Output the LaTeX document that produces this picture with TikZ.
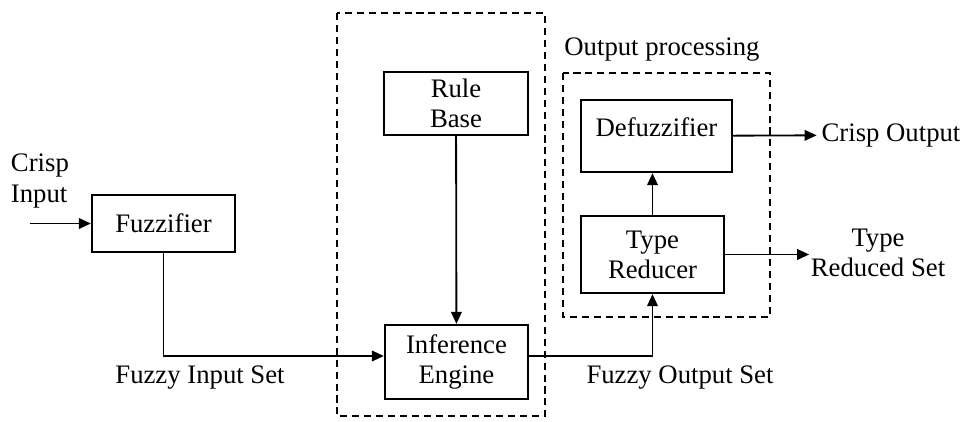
\documentclass[tikz,border=0pt]{standalone}
\usepackage{fontspec}
\setmainfont{Liberation Serif}
\usepackage{tikz}
\usetikzlibrary{shapes,arrows,arrows.meta}

\tikzset{
  block/.style={rectangle,draw,line width=1.6pt,align=center},
  frame/.style={draw,line width=1.4pt,dash pattern=on 5pt off 3.5pt},
  arr/.style={line width=1.3pt,-{Triangle[length=8.5pt,width=7.5pt]}}
}

\begin{document}
\begin{tikzpicture}[x=0.025cm,y=-0.025cm,font=\fontsize{19}{21.5}\selectfont]
\useasboundingbox (0,0) rectangle (970,421);

\draw [frame] (337,13) rectangle (545,416);
\draw [frame] (563,73) rectangle (770,317);

\node [anchor=west,align=left] (v1) at (6,181) {Crisp\\Input};
\node [block,minimum width=3.575cm,minimum height=1.425cm] (v2) at (163.5,223.5) {Fuzzifier};
\node (v3) at (200,378) {Fuzzy Input Set};
\node [block,minimum width=3.6cm,minimum height=1.575cm] (v4) at (456,103.5) {Rule\\Base};
\node [block,minimum width=3.575cm,minimum height=1.85cm] (v5) at (456.5,362) {Inference\\Engine};
\node [block,minimum width=3.575cm,minimum height=1.925cm] (v6) at (652.5,254.5) {Type\\Reducer};
\node [block,minimum width=3.775cm,minimum height=1.8cm,text depth=0.47cm] (v7) at (656.5,136) {Defuzzifier};
\node (v8) at (891,135) {Crisp Output};
\node [align=center,inner xsep=1pt] (v9) at (878,253) {Type\\Reduced Set};
\node (v10) at (680,378) {Fuzzy Output Set};
\node (v11) at (662,50) {Output processing};

\coordinate (c1) at (30,223.5);

\draw [arr] (c1) -- (v2);
\draw [arr] (v2.south) |- ([yshift=0.15cm]v5.west);
\draw (v4) edge[arr] (v5);
\draw [arr] ([yshift=0.15cm]v5.east) -| (v6.south);
\draw [arr] (v6.north) -- (v6.north |- v7.south);
\draw (v7) edge[arr] (v8);
\draw [arr] (v6.east) -- (v6.east -| v9.west);

\end{tikzpicture}
\end{document}
